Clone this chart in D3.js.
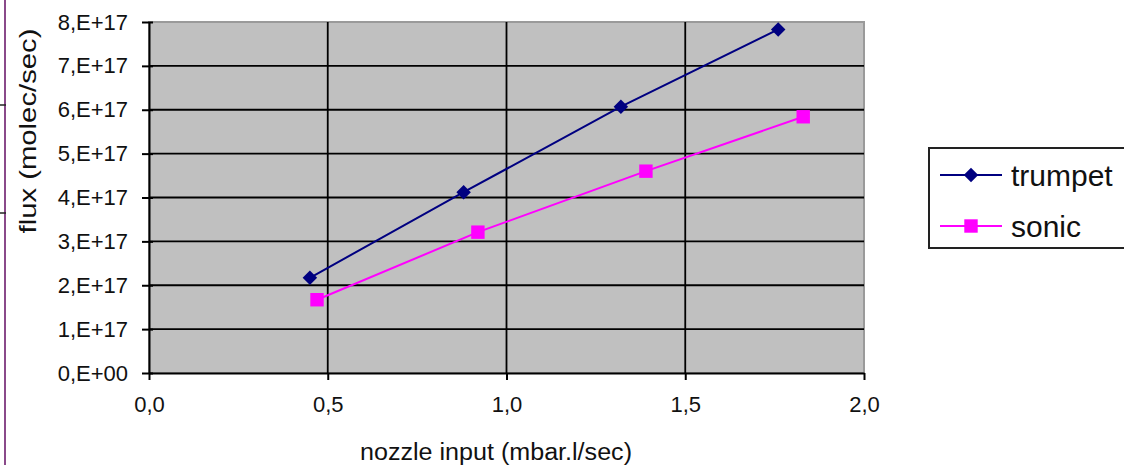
<!DOCTYPE html>
<html><head><meta charset="utf-8">
<script src="https://cdn.jsdelivr.net/npm/d3@7"></script>
<style>
html,body{margin:0;padding:0;background:#fff;}
svg{display:block;font-family:"Liberation Sans",Arial,sans-serif;}
</style></head>
<body><svg id="c" width="1124" height="465"></svg>
<script>
const seriesNames = ["trumpet", "sonic"];
const trumpetX = [0.45, 0.88, 1.32, 1.76];
const trumpetY = [2.17e17, 4.12e17, 6.07e17, 7.83e17];
const sonicX = [0.47, 0.92, 1.39, 1.83];
const sonicY = [1.67e17, 3.21e17, 4.60e17, 5.84e17];
const xTicks = [0, 0.5, 1.0, 1.5, 2.0];
const yTicks = [0, 1e17, 2e17, 3e17, 4e17, 5e17, 6e17, 7e17, 8e17];
const xTitle = "nozzle input (mbar.l/sec)";
const yTitle = "flux (molec/sec)";

const svg = d3.select("#c");
const L = 149, R = 864, T = 22, B = 373;
const x = d3.scaleLinear().domain([0, 2]).range([L, R]);
const y = d3.scaleLinear().domain([0, 8e17]).range([B, T]);

const fmtY = v => {
  if (v === 0) return "0,E+00";
  const e = Math.floor(Math.log10(v));
  const m = Math.round(v / Math.pow(10, e));
  return m + ",E+" + String(e).padStart(2, "0");
};
const fmtX = v => d3.format(".1f")(v).replace(".", ",");

// left-edge artifacts from the source page
svg.append("line").attr("x1", 5).attr("x2", 5).attr("y1", 0).attr("y2", 465)
  .attr("stroke", "#8a4a8a").attr("stroke-width", 2);
svg.append("line").attr("x1", 0).attr("x2", 6).attr("y1", 105).attr("y2", 105).attr("stroke", "#222").attr("stroke-width", 1.5);
svg.append("line").attr("x1", 0).attr("x2", 6).attr("y1", 213).attr("y2", 213).attr("stroke", "#222").attr("stroke-width", 1.5);

// plot background
svg.append("rect").attr("x", L).attr("y", T).attr("width", R - L).attr("height", B - T)
  .attr("fill", "#c0c0c0").attr("stroke", "#9a9a9a").attr("stroke-width", 2);

// horizontal gridlines
svg.append("g").selectAll("line").data(yTicks.filter(v => v > 0 && v < 8e17)).join("line")
  .attr("x1", L).attr("x2", R).attr("y1", d => y(d)).attr("y2", d => y(d))
  .attr("stroke", "#000").attr("stroke-width", 1.8);
// vertical gridlines
svg.append("g").selectAll("line").data(xTicks.filter(v => v > 0 && v < 2)).join("line")
  .attr("y1", T).attr("y2", B).attr("x1", d => x(d)).attr("x2", d => x(d))
  .attr("stroke", "#000").attr("stroke-width", 1.8);

// axes
const yAxis = d3.axisLeft(y).tickValues(yTicks).tickFormat(fmtY).tickSizeInner(7).tickSizeOuter(0).tickPadding(14);
const gy = svg.append("g").attr("transform", `translate(${L},0)`).call(yAxis);
gy.select(".domain").attr("stroke", "#000").attr("stroke-width", 2);
gy.selectAll(".tick line").attr("stroke", "#000").attr("stroke-width", 2).attr("x2", 4).attr("x1", -7);
gy.selectAll(".tick text").attr("font-size", 22).attr("fill", "#111").attr("font-family", "Liberation Sans, Arial, sans-serif");

const xAxis = d3.axisBottom(x).tickValues(xTicks).tickFormat(fmtX).tickSizeInner(7).tickSizeOuter(0).tickPadding(16);
const gx = svg.append("g").attr("transform", `translate(0,${B})`).call(xAxis);
gx.select(".domain").attr("stroke", "#000").attr("stroke-width", 2);
gx.selectAll(".tick line").attr("stroke", "#000").attr("stroke-width", 2);
gx.selectAll(".tick text").attr("font-size", 22).attr("fill", "#111").attr("font-family", "Liberation Sans, Arial, sans-serif");

// titles
svg.append("text").attr("x", 496).attr("y", 460).attr("text-anchor", "middle")
  .attr("font-size", 23).attr("fill", "#111").attr("textLength", 272).attr("lengthAdjust", "spacingAndGlyphs")
  .text(xTitle);
svg.append("text").attr("transform", "translate(36,131) rotate(-90)").attr("text-anchor", "middle")
  .attr("font-size", 24).attr("fill", "#111").attr("textLength", 205).attr("lengthAdjust", "spacingAndGlyphs")
  .text(yTitle);

// series
const data = [
  {name: seriesNames[0], xs: trumpetX, ys: trumpetY, color: "#000080", diamond: true},
  {name: seriesNames[1], xs: sonicX, ys: sonicY, color: "#ff00ff", diamond: false}
];
const line = d3.line().x(d => x(d[0])).y(d => y(d[1]));
data.forEach(s => {
  const pts = s.xs.map((v, i) => [v, s.ys[i]]);
  svg.append("path").datum(pts).attr("d", line).attr("fill", "none")
    .attr("stroke", s.color).attr("stroke-width", 2);
  svg.append("g").selectAll("path").data(pts).join("path")
    .attr("d", d3.symbol().type(d3.symbolSquare).size(s.diamond ? 105 : 180))
    .attr("transform", d => `translate(${x(d[0])},${y(d[1])})` + (s.diamond ? " rotate(45)" : ""))
    .attr("fill", s.color);
});

// legend
const lg = svg.append("g");
lg.append("rect").attr("x", 929).attr("y", 148).attr("width", 220).attr("height", 100)
  .attr("fill", "#fff").attr("stroke", "#222").attr("stroke-width", 2);
data.forEach((s, i) => {
  const ly = 175 + i * 51;
  lg.append("line").attr("x1", 940).attr("x2", 1002).attr("y1", ly).attr("y2", ly)
    .attr("stroke", s.color).attr("stroke-width", 2);
  lg.append("path").attr("d", d3.symbol().type(d3.symbolSquare).size(s.diamond ? 105 : 180))
    .attr("transform", `translate(971,${ly})` + (s.diamond ? " rotate(45)" : ""))
    .attr("fill", s.color);
  lg.append("text").attr("x", 1011).attr("y", ly + 11).attr("font-size", 30).attr("fill", "#111")
    .text(s.name);
});
</script></body></html>
